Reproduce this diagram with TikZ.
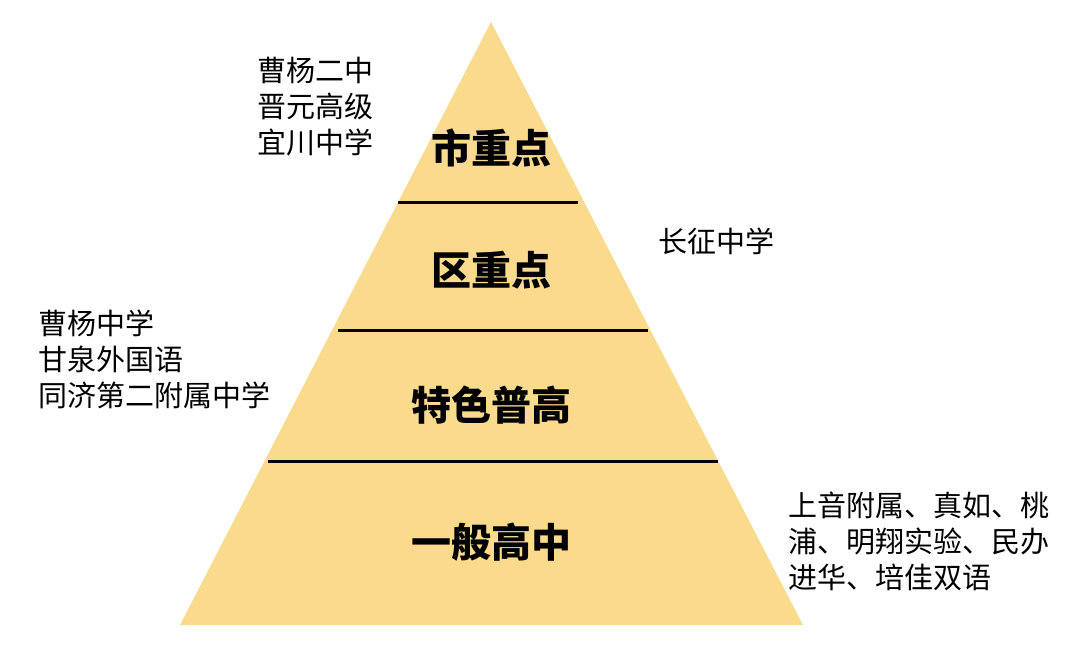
\documentclass[tikz,border=0pt]{standalone}
\usepackage{fontspec}
\newfontfamily\cjk{Noto Sans CJK SC}
\begin{document}
\begin{tikzpicture}[x=1pt,y=-1pt,
  side/.style={font=\cjk\fontsize{29}{36}\selectfont, align=left, inner sep=0pt},
  lvl/.style={font=\cjk\bfseries\fontsize{40}{44}\selectfont, inner sep=0pt},
  sep/.style={line width=3pt, black}]
\useasboundingbox (0,0) rectangle (1080,653);
\fill[fill={rgb,255:red,250;green,219;blue,142}] (491,22) coordinate (apex) -- (803,625) coordinate (br) -- (180,625) coordinate (bl) -- cycle;
\coordinate (a1) at (398,202); \coordinate (b1) at (578,202);
\coordinate (a2) at (338,330); \coordinate (b2) at (648,330);
\coordinate (a3) at (268,461); \coordinate (b3) at (718,461);
\draw[sep] (a1) -- (b1);
\draw[sep] (a2) -- (b2);
\draw[sep] (a3) -- (b3);
\node[lvl] (l1) at (491,148) {市重点};
\node[lvl] (l2) at (491,270) {区重点};
\node[lvl] (l3) at (491,405) {特色普高};
\node[lvl] (l4) at (491,542) {一般高中};
\node[side, anchor=north west] (t1) at (257,57) {曹杨二中\\晋元高级\\宜川中学};
\node[side, anchor=north west] (t2) at (658,228) {长征中学};
\node[side, anchor=north west] (t3) at (38,310) {曹杨中学\\甘泉外国语\\同济第二附属中学};
\node[side, anchor=north west] (t4) at (788,492) {上音附属、真如、桃\\浦、明翔实验、民办\\进华、培佳双语};
\end{tikzpicture}
\end{document}
